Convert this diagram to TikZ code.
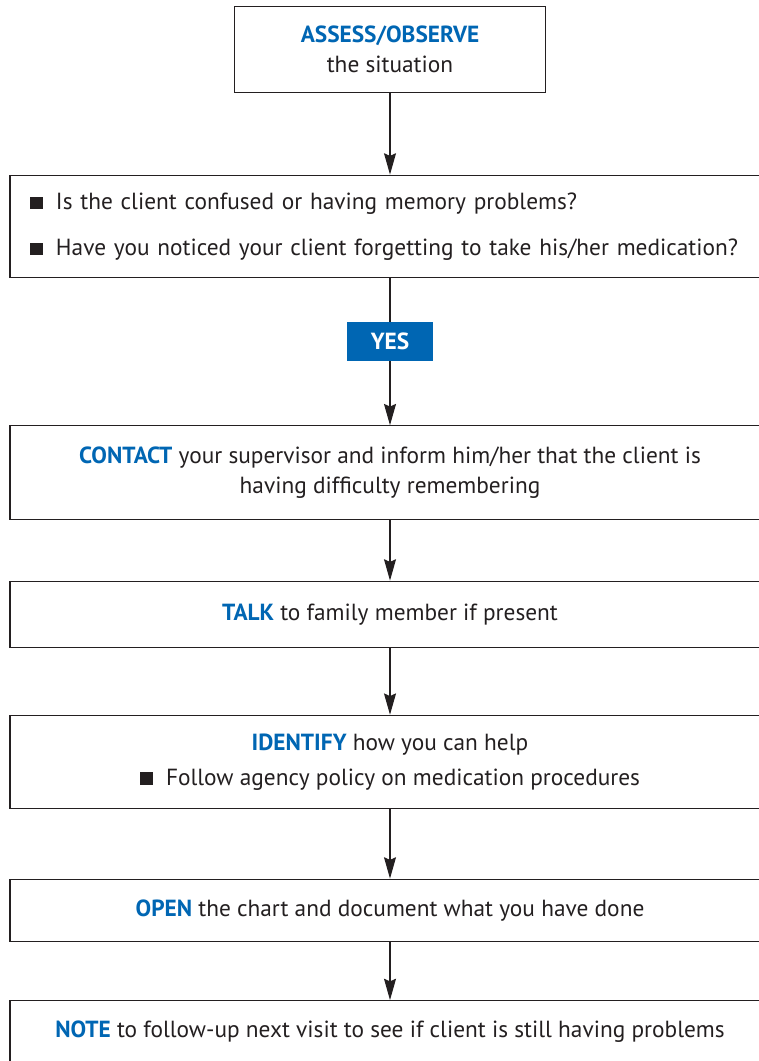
\documentclass[tikz,border=0pt]{standalone}
\usepackage{fontspec}
\setmainfont{PT Sans}
\usetikzlibrary{arrows.meta}
\definecolor{stepblue}{HTML}{0066B3}
\definecolor{inkgray}{HTML}{231F20}
\newcommand{\key}[1]{\textbf{\color{stepblue}#1}}
\newcommand{\sqbullet}{\rule{9.5pt}{9.5pt}\hspace{10pt}}

\begin{document}
\begin{tikzpicture}[x=0.75pt,y=-0.75pt,
  every node/.style={font=\fontsize{17.5}{22.5}\selectfont, text=inkgray},
  stepbox/.style={draw=inkgray, line width=0.9pt, minimum width=570pt, align=center},
  flow/.style={draw=inkgray, line width=0.9pt, -{Stealth[length=16pt, width=9pt, inset=2pt]}},
  link/.style={draw=inkgray, line width=0.9pt}]
\useasboundingbox (0,0) rectangle (759,1061);
\node[stepbox, minimum width=233pt, minimum height=64pt] (assess) at (390,49.5)
  {\key{ASSESS/OBSERVE}\\ the situation};
\node[stepbox, minimum height=77pt, text width=540pt, inner xsep=13.5pt, align=left] (questions) at (390,226.5)
  {\sqbullet Is the client confused or having memory problems?\\[12pt]
   \sqbullet Have you noticed your client forgetting to take his/her medication?};
\node[fill=stepblue, minimum width=65pt, minimum height=29pt, text=white, font=\fontsize{17.5}{22.5}\selectfont\bfseries] (yes) at (390,341.5) {YES};
\node[stepbox, minimum height=70pt] (contact) at (390,472.5)
  {\key{CONTACT} your supervisor and inform him/her that the client is\\ having difficulty remembering};
\node[stepbox, minimum height=50pt] (talk) at (390,614.5)
  {\key{TALK} to family member if present};
\node[stepbox, minimum height=70pt] (identify) at (390,762)
  {\key{IDENTIFY} how you can help\\[3.5pt] \sqbullet Follow agency policy on medication procedures};
\node[stepbox, minimum height=47pt] (open) at (390,910.5)
  {\key{OPEN} the chart and document what you have done};
\node[stepbox, minimum height=47pt] (note) at (390,1032)
  {\key{NOTE} to follow-up next visit to see if client is still having problems};
% connectors
\draw[flow] (assess) -- (questions);
\draw[link] (questions) -- (yes);
\draw[flow] (yes) -- (contact);
\draw[flow] (contact) -- (talk);
\draw[flow] (talk) -- (identify);
\draw[flow] (identify) -- (open);
\draw[flow] (open) -- (note);
\end{tikzpicture}
\end{document}
